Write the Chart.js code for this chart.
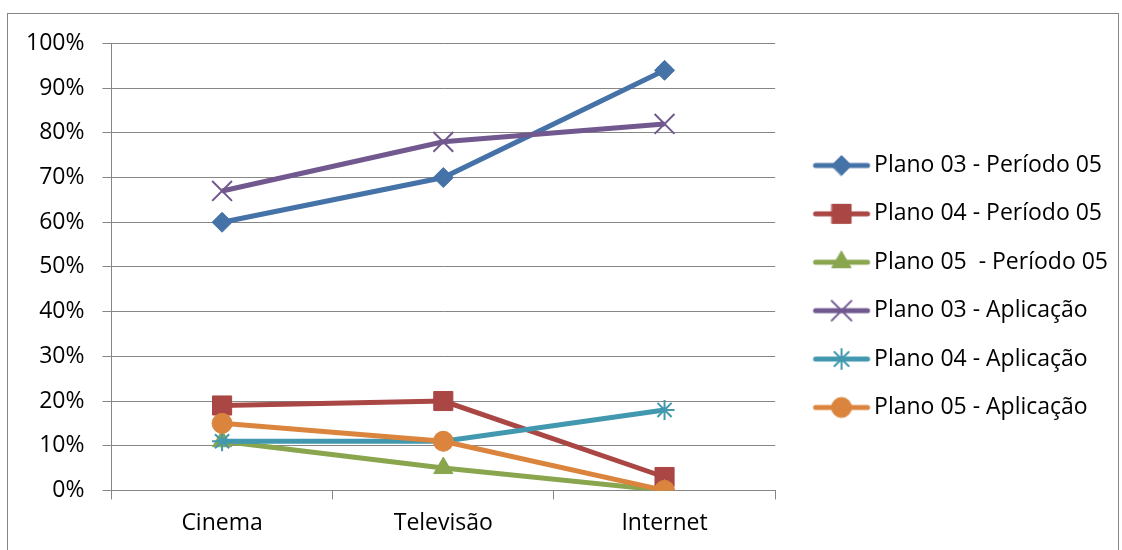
<!DOCTYPE html>
<html>
<head>
<meta charset="utf-8">
<script src="https://cdn.jsdelivr.net/npm/chart.js@4/dist/chart.umd.min.js"></script>
<style>
  body { margin: 0; background: #fff; width: 1122px; height: 550px; overflow: hidden; }
  #box { position: absolute; left: 7px; top: 13px; width: 1110px; height: 560px; border: 1px solid #868686; }
  #wrap { position: absolute; left: 0; top: 0; width: 1110px; height: 537px; }
</style>
</head>
<body>
<div id="box"><div id="wrap"><canvas id="myChart"></canvas></div></div>
<script>
const categories = ["Cinema", "Televisão", "Internet"];
const seriesNames = [
  "Plano 03 - Período 05",
  "Plano 04 - Período 05",
  "Plano 05  - Período 05",
  "Plano 03 - Aplicação",
  "Plano 04 - Aplicação",
  "Plano 05 - Aplicação"
];
const plano03Periodo = [60, 70, 94];
const plano04Periodo = [19, 20, 3];
const plano05Periodo = [11, 5, 0];
const plano03Aplic = [67, 78, 82];
const plano04Aplic = [11, 11, 18];
const plano05Aplic = [15, 11, 0];
const yTicks = [0, 10, 20, 30, 40, 50, 60, 70, 80, 90, 100];

const colors = ["#4572A7", "#AA4643", "#89A54E", "#71588F", "#4198AF", "#DB843D"];
const styles = ["rectRot", "rect", "triangle", "crossRot", "star", "circle"];
const radii = [10, 13.5, 11, 14, 10, 10];
const markBorder = [1, 1, 1, 2, 2, 1];
const allValues = [plano03Periodo, plano04Periodo, plano05Periodo, plano03Aplic, plano04Aplic, plano05Aplic];

const fontName = "'Open Sans', sans-serif";

// little line + marker picture used as the legend symbol
function legendIcon(i) {
  const c = document.createElement("canvas");
  c.width = 96; c.height = 30;
  const g = c.getContext("2d");
  g.strokeStyle = colors[i];
  g.fillStyle = colors[i];
  g.lineWidth = 5;
  g.lineCap = "round";
  g.beginPath(); g.moveTo(32, 15); g.lineTo(84, 15); g.stroke();
  g.lineWidth = markBorder[i];
  Chart.helpers.drawPoint(g, { pointStyle: styles[i], rotation: 0, radius: radii[i], borderWidth: markBorder[i] }, 58, 15);
  return c;
}

const datasets = allValues.map((vals, i) => ({
  label: seriesNames[i],
  data: vals,
  borderColor: colors[i],
  backgroundColor: colors[i],
  borderWidth: 5,
  tension: 0,
  pointStyle: styles[i],
  pointRadius: radii[i],
  pointHoverRadius: radii[i],
  pointBorderWidth: markBorder[i],
  order: 5 - i
}));

const config = {
  type: "line",
  data: { labels: categories, datasets: datasets },
  options: {
    animation: false,
    responsive: true,
    maintainAspectRatio: false,
    layout: { padding: { left: 0, top: 23, right: 0, bottom: 4 } },
    plugins: {
      tooltip: { enabled: false },
      legend: {
        position: "right",
        fullSize: false,
        maxWidth: 344,
        // empty title only used to push the items down a bit
        title: { display: true, text: "", font: { size: 10, lineHeight: 1 }, padding: { top: 29, bottom: 0 } },
        labels: {
          font: { family: fontName, size: 23 },
          color: "#000",
          usePointStyle: true,
          pointStyleWidth: 62,
          padding: 25.4,
          generateLabels: (chart) => chart.data.datasets.map((ds, i) => ({
            text: ds.label,
            pointStyle: legendIcon(i),
            fillStyle: colors[i],
            strokeStyle: colors[i],
            lineWidth: 0,
            hidden: false,
            datasetIndex: i,
            fontColor: "#000"
          }))
        }
      }
    },
    scales: {
      x: {
        offset: true,
        grid: { offset: true, drawOnChartArea: false, color: "#868686", tickLength: 9, lineWidth: 1 },
        border: { color: "#868686", width: 1 },
        ticks: { font: { family: fontName, size: 23 }, color: "#000", padding: 10 }
      },
      y: {
        min: 0,
        max: 100,
        afterBuildTicks: (axis) => { axis.ticks = yTicks.map(v => ({ value: v })); },
        grid: { color: "#868686", tickLength: 9, lineWidth: 1 },
        border: { color: "#868686", width: 1 },
        ticks: { font: { family: fontName, size: 23, lineHeight: 1 }, color: "#000", padding: 18, callback: (v) => v + "%" }
      }
    }
  }
};

const myChart = new Chart("myChart", config);
</script>
</body>
</html>
